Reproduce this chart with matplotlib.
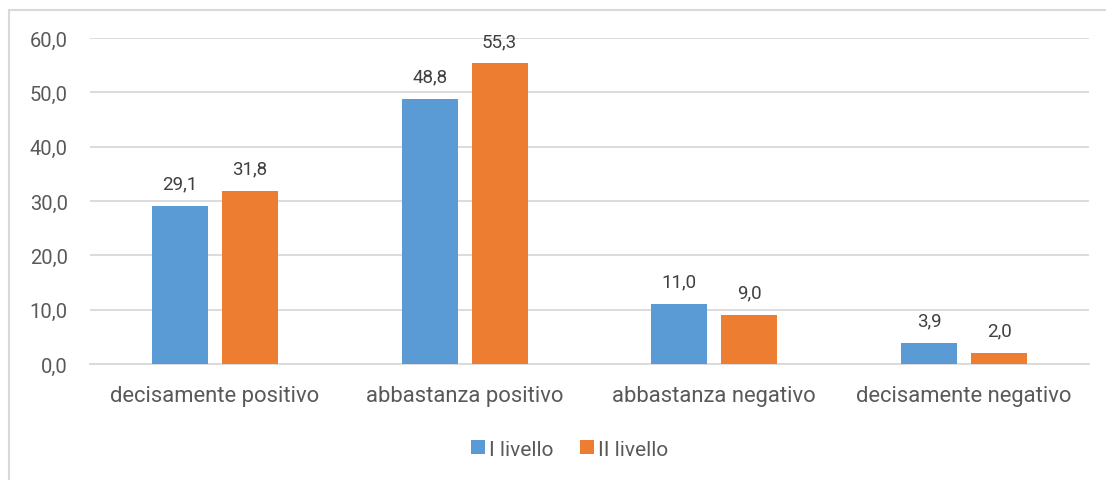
import numpy as np
import matplotlib.pyplot as plt
from matplotlib.patches import Rectangle

categories = ['decisamente positivo', 'abbastanza positivo', 'abbastanza negativo', 'decisamente negativo']
livello_1 = [29.1, 48.8, 11.0, 3.9]
livello_2 = [31.8, 55.3, 9.0, 2.0]
series_names = ['I livello', 'II livello']

plt.rcParams['font.family'] = ['Roboto', 'DejaVu Sans']
grey = '#595959'

fig = plt.figure(figsize=(11.06, 4.81), dpi=100)
ax = fig.add_axes([0.0814, 0.2412, 0.9032, 0.6778])

# frame around chart (right/bottom edges cut off in the original)
fig.patches.append(Rectangle((8.5 / 1106, -0.1), 1.2, 1 - 10.5 / 481 + 0.1,
                             transform=fig.transFigure, fill=False,
                             edgecolor='#D9D9D9', linewidth=1.5))

x = np.arange(len(categories))
w = 0.224
b1 = ax.bar(x - 0.14, livello_1, w, color='#5B9BD5', label=series_names[0], zorder=3)
b2 = ax.bar(x + 0.14, livello_2, w, color='#ED7D31', label=series_names[1], zorder=3)

for bars, vals in ((b1, livello_1), (b2, livello_2)):
    for r, v in zip(bars, vals):
        ax.text(r.get_x() + r.get_width() / 2, v + 3.2, f'{v:.1f}'.replace('.', ','),
                ha='center', va='baseline', fontsize=13.5, color='#404040')

ax.set_xlim(-0.5, 3.5)
ax.set_ylim(0, 60)
ax.set_yticks(np.arange(0, 61, 10))
ax.set_yticklabels([f'{t:.1f}'.replace('.', ',') for t in np.arange(0, 61, 10)])
ax.set_xticks(x)
ax.set_xticklabels(categories)
ax.tick_params(axis='both', length=0, labelcolor=grey)
ax.tick_params(axis='x', pad=15, labelsize=15.8)
ax.tick_params(axis='y', pad=16, labelsize=14.5)
ax.grid(axis='y', color='#D9D9D9', linewidth=1.3, zorder=0)
for s in ['top', 'right', 'left']:
    ax.spines[s].set_visible(False)
ax.spines['bottom'].set_color('#D9D9D9')
ax.spines['bottom'].set_linewidth(1.3)

fig.legend(loc='center', bbox_to_anchor=(0.515, 0.064), ncol=2, frameon=False,
           fontsize=15, labelcolor=grey, handlelength=0.65, handleheight=0.65,
           handletextpad=0.2, columnspacing=1.3)

fig.savefig('out.png', dpi=100)
